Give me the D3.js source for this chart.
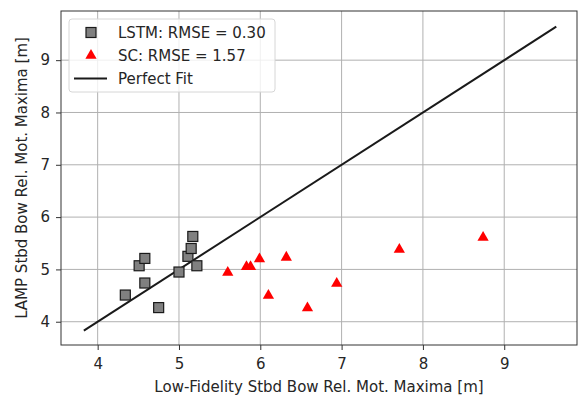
<!DOCTYPE html>
<html>
<head>
<meta charset="utf-8">
<script src="https://cdn.jsdelivr.net/npm/d3@7"></script>
<style>
  body { margin: 0; background: #fff; }
  svg text { font-family: "DejaVu Sans", sans-serif; fill: #262626; }
</style>
</head>
<body>
<div id="chart"></div>
<script>
// data
const lstmX = [4.34, 4.51, 4.58, 4.58, 4.75, 5.00, 5.11, 5.15, 5.17, 5.22];
const lstmY = [4.51, 5.07, 5.21, 4.74, 4.27, 4.95, 5.25, 5.40, 5.63, 5.07];
const scX = [5.60, 5.83, 5.88, 5.99, 6.10, 6.32, 6.58, 6.94, 7.71, 8.74];
const scY = [4.94, 5.05, 5.05, 5.20, 4.50, 5.23, 4.26, 4.73, 5.38, 5.61];
const fitLine = [3.83, 9.64];
const xTicks = [4, 5, 6, 7, 8, 9];
const yTicks = [4, 5, 6, 7, 8, 9];
const legendLabels = ['LSTM: RMSE = 0.30', 'SC: RMSE = 1.57', 'Perfect Fit'];

const width = 586, height = 399;
const margin = { top: 11, right: 9, bottom: 54, left: 61 };

const svg = d3.select('#chart').append('svg')
    .attr('width', width)
    .attr('height', height);

const x = d3.scaleLinear().domain([3.549, 9.895]).range([margin.left, width - margin.right]);
const y = d3.scaleLinear().domain([3.555, 9.94]).range([height - margin.bottom, margin.top]);

// grid
svg.append('g').selectAll('line').data(xTicks).join('line')
    .attr('x1', d => x(d)).attr('x2', d => x(d))
    .attr('y1', margin.top).attr('y2', height - margin.bottom)
    .attr('stroke', '#b0b0b0').attr('stroke-width', 1);
svg.append('g').selectAll('line').data(yTicks).join('line')
    .attr('y1', d => y(d)).attr('y2', d => y(d))
    .attr('x1', margin.left).attr('x2', width - margin.right)
    .attr('stroke', '#b0b0b0').attr('stroke-width', 1);

// axes
const xAxis = svg.append('g')
    .attr('transform', `translate(0,${height - margin.bottom})`)
    .call(d3.axisBottom(x).tickValues(xTicks).tickSize(5).tickPadding(8).tickFormat(d3.format('d')));
const yAxis = svg.append('g')
    .attr('transform', `translate(${margin.left},0)`)
    .call(d3.axisLeft(y).tickValues(yTicks).tickSize(5).tickPadding(6).tickFormat(d3.format('d')));
[xAxis, yAxis].forEach(a => {
    a.select('.domain').remove();
    a.selectAll('.tick line').attr('stroke', '#333');
    a.selectAll('.tick text').style('font-size', '15px').attr('fill', '#262626');
});

// perfect fit line
const line = d3.line().x(d => x(d)).y(d => y(d));
svg.append('path')
    .attr('d', line(fitLine))
    .attr('fill', 'none')
    .attr('stroke', '#1a1a1a')
    .attr('stroke-width', 2);

// LSTM squares
svg.append('g').selectAll('rect').data(lstmX).join('rect')
    .attr('x', (d, i) => x(d) - 5)
    .attr('y', (d, i) => y(lstmY[i]) - 5)
    .attr('width', 10).attr('height', 10)
    .attr('fill', '#808080')
    .attr('stroke', '#1a1a1a')
    .attr('stroke-width', 1.2);

// SC triangles
const tri = d3.symbol().type(d3.symbolTriangle).size(55);
svg.append('g').selectAll('path').data(scX).join('path')
    .attr('transform', (d, i) => `translate(${x(d)},${y(scY[i])})`)
    .attr('d', tri)
    .attr('fill', '#ff0000');

// frame
svg.append('rect')
    .attr('x', margin.left).attr('y', margin.top)
    .attr('width', width - margin.left - margin.right)
    .attr('height', height - margin.top - margin.bottom)
    .attr('fill', 'none')
    .attr('stroke', '#333')
    .attr('stroke-width', 1);

// legend
const lg = svg.append('g');
lg.append('rect')
    .attr('x', 69).attr('y', 19).attr('width', 206).attr('height', 73)
    .attr('rx', 3)
    .attr('fill', 'rgba(255,255,255,0.8)')
    .attr('stroke', '#d6d6d6');
const rowY = [32.5, 55.5, 78.5];
lg.append('rect').attr('x', 86).attr('y', rowY[0] - 5).attr('width', 10).attr('height', 10)
    .attr('fill', '#808080').attr('stroke', '#1a1a1a').attr('stroke-width', 1.2);
lg.append('path').attr('transform', `translate(91,${rowY[1]})`).attr('d', tri).attr('fill', '#ff0000');
lg.append('line').attr('x1', 74).attr('x2', 107).attr('y1', rowY[2]).attr('y2', rowY[2])
    .attr('stroke', '#1a1a1a').attr('stroke-width', 2);
lg.selectAll('text').data(legendLabels).join('text')
    .attr('x', 118)
    .attr('y', (d, i) => rowY[i] + 5.8)
    .style('font-size', '15px')
    .text(d => d);

// axis labels
svg.append('text')
    .attr('x', (margin.left + width - margin.right) / 2).attr('y', 392)
    .attr('text-anchor', 'middle')
    .style('font-size', '15px')
    .text('Low-Fidelity Stbd Bow Rel. Mot. Maxima [m]');
svg.append('text')
    .attr('transform', `translate(27,${(margin.top + height - margin.bottom) / 2}) rotate(-90)`)
    .attr('text-anchor', 'middle')
    .style('font-size', '15px')
    .text('LAMP Stbd Bow Rel. Mot. Maxima [m]');
</script>
</body>
</html>
